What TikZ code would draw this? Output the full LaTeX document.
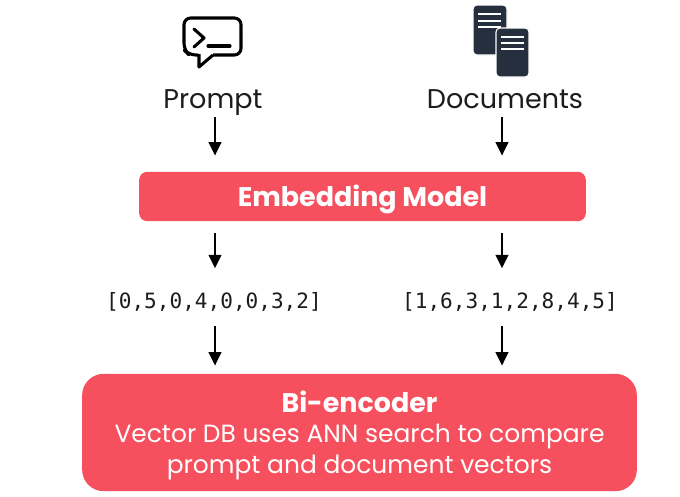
\documentclass[tikz,border=0pt]{standalone}
\usepackage{fontspec}
\setmainfont{Poppins}
\newfontfamily\vecfont{DejaVu Sans Mono}
\usetikzlibrary{arrows.meta}
\definecolor{boxred}{HTML}{F6505E}
\definecolor{docblue}{HTML}{252F3E}
\definecolor{inkblack}{HTML}{1C1C1C}
\tikzset{
  flow/.style={-{Triangle[width=9.5pt,length=10pt]}, line width=1.3pt, black},
  redbox/.style={fill=boxred, text=white, align=center, inner sep=0pt},
  caption/.style={text=inkblack, font=\fontsize{20.3}{24}\selectfont, inner sep=0pt, anchor=base},
  vector/.style={text=inkblack, font=\vecfont\fontsize{15.8}{19}\selectfont, inner sep=0pt},
  docpage/.style={fill=docblue, draw=white, line width=0.8pt, rounded corners=3pt},
  docline/.style={white, line width=1.3pt},
}
\begin{document}
\begin{tikzpicture}[x=0.75pt,y=-0.75pt]

\useasboundingbox (0,0) rectangle (680,496);

% arrows run along these two columns
\coordinate (leftcol) at (215,0);
\coordinate (rightcol) at (502,0);

% prompt icon
\draw[line width=2.3pt, black, line join=round, rounded corners=5pt]
  (198,55) -- (189,55) -- (184,50) -- (184,18) -- (241,18) -- (241,55) -- (213,55);
\draw[line width=2.3pt, black, line join=round]
  (199,54) -- (199,67) -- (213,55);
\draw[line width=2.3pt, black, line cap=round, line join=round]
  (194,29) -- (204,38) -- (194,47);
\draw[line width=2.3pt, black, line cap=round] (208,46) -- (230,46);

% documents icon
\draw[docpage] (473,5) rectangle (507,55);
\draw[docline] (478,14) -- (501,14);
\draw[docline] (478,21) -- (501,21);
\draw[docline] (478,27) -- (501,27);
\draw[docpage] (496,28) rectangle (529,77);
\draw[docline] (501,37) -- (524,37);
\draw[docline] (501,43) -- (524,43);
\draw[docline] (501,49) -- (524,49);

\node[caption] (prompt) at (213,108) {Prompt};
\node[caption] (documents) at (505,108) {Documents};

\node[redbox, minimum width=335pt, minimum height=37pt, rounded corners=6pt,
      font=\bfseries\fontsize{20.2}{24}\selectfont] (embedding) at (362.5,196.5) {\rule{0pt}{20pt}Embedding Model};

\node[vector] (promptvec) at (214,302) {[0,5,0,4,0,0,3,2]};
\node[vector] (docvec) at (510,302) {[1,6,3,1,2,8,4,5]};

\node[redbox, minimum width=416pt, minimum height=88pt, rounded corners=16pt,
      font=\fontsize{18.7}{22.9}\selectfont] (biencoder) at (359.5,432.5)
      {\rule{0pt}{20pt}{\bfseries\fontsize{20.2}{22.9}\selectfont Bi-encoder}\\Vector DB uses ANN search to compare\\prompt and document vectors};

\draw[flow, shorten <=7pt, shorten >=12pt] (prompt.base -| leftcol) -- (embedding.north -| leftcol);
\draw[flow, shorten <=7pt, shorten >=12pt] (documents.base -| rightcol) -- (embedding.north -| rightcol);
\draw[flow, shorten <=9pt, shorten >=18pt] (embedding.south -| leftcol) -- (promptvec.north -| leftcol);
\draw[flow, shorten <=9pt, shorten >=18pt] (embedding.south -| rightcol) -- (docvec.north -| rightcol);
\draw[flow, shorten <=11pt, shorten >=6pt] (promptvec.south -| leftcol) -- (biencoder.north -| leftcol);
\draw[flow, shorten <=11pt, shorten >=6pt] (docvec.south -| rightcol) -- (biencoder.north -| rightcol);

\end{tikzpicture}
\end{document}
